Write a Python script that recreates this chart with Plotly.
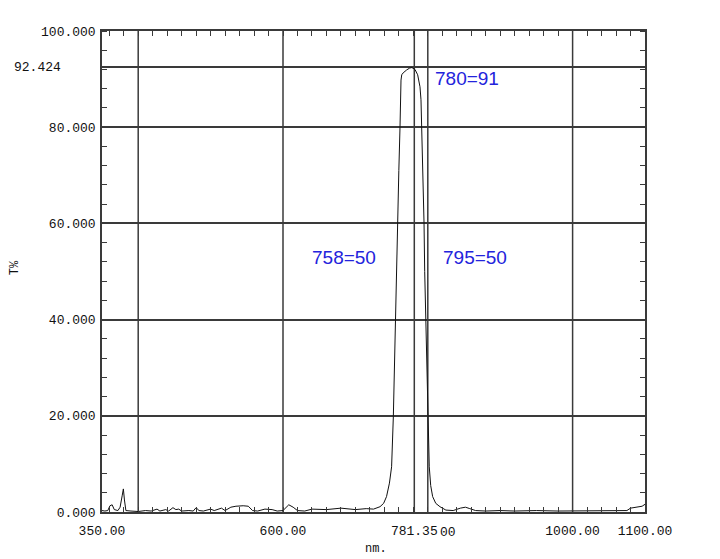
import plotly.graph_objects as go

# transmission spectrum (nm, T%)
wavelength = [350, 354, 358, 361, 364, 367, 372, 375, 378, 379.5, 381, 383, 390, 400,
              410, 418, 426, 430, 438, 442, 448, 452, 456, 460, 470, 476, 480, 484,
              490, 500, 505, 510, 515, 520, 528, 535, 545, 552, 558, 565, 575, 585,
              592, 600, 604, 608, 614, 620, 630, 640, 660, 680, 700, 715, 725, 730,
              734, 739, 743, 747, 750, 752.4, 755, 757, 757.9, 760, 761.6, 762, 763,
              764, 766, 770.8, 775, 778, 782.3, 786, 789.2, 790.6, 791.6, 793.5,
              794.8, 795.7, 797.5, 799, 800.7, 802, 804, 806.7, 811, 816.8, 825, 835,
              845, 852, 858, 866, 880, 900, 920, 950, 980, 1000, 1030, 1060, 1075,
              1080, 1090, 1096, 1100]
transmission = [0.3, 0.2, 0.3, 1.3, 1.5, 0.5, 0.3, 1.0, 3.5, 4.8, 2.5, 0.3, 0.2, 0.1,
                0.3, 0.2, 0.6, 0.2, 0.5, 0.2, 0.9, 0.5, 0.6, 0.2, 0.3, 0.2, 0.9, 0.3,
                0.2, 0.6, 0.3, 0.5, 0.8, 0.3, 1.0, 1.2, 1.3, 1.2, 0.3, 0.2, 0.6, 0.5,
                0.2, 0.3, 1.0, 1.5, 1.0, 0.3, 0.2, 0.6, 0.5, 0.8, 0.5, 0.7, 0.6, 0.8,
                1.1, 1.8, 3.2, 6.0, 9.4, 19.8, 40.0, 50.0, 60.0, 71.0, 80.0, 85.7, 89.8,
                90.9, 91.3, 91.9, 92.3, 92.4, 92.0, 90.9, 88.4, 85.7, 80.1, 70.0,
                60.0, 50.0, 40.0, 30.0, 19.8, 9.4, 5.5, 3.2, 1.8, 1.1, 0.4, 0.3,
                0.8, 1.0, 0.7, 0.3, 0.2, 0.3, 0.2, 0.3, 0.2, 0.2, 0.2, 0.2, 0.3,
                0.8, 1.0, 1.2, 1.6]

peak_wl = 781.35
x_tick_vals = [350, 600, peak_wl, 1000, 1100]
x_tick_text = ["350.00", "600.00", "781.35", "1000.00", "1100.00"]
x_grid = [400, 600, peak_wl, 800, 1000]

y_tick_vals = [0, 20, 40, 60, 80, 92.424, 100]
y_tick_text = ["0.000", "20.000", "40.000", "60.000", "80.000", "", "100.000"]
peak_t = 92.424

notes = [("780=91", 807, 90.1), ("758=50", 637, 53.0), ("795=50", 818, 53.0)]

grid_col = "#3a3a3a"
tick_font = dict(family="Liberation Mono, monospace", size=13, color="#111")

fig = go.Figure()
fig.add_trace(go.Scatter(x=wavelength, y=transmission, mode="lines",
                         line=dict(color="#111", width=1), showlegend=False))

for gx in x_grid:
    fig.add_shape(type="line", x0=gx, x1=gx, y0=0, y1=1, xref="x", yref="paper",
                  line=dict(color=grid_col, width=1.5), layer="below")

# page body has an 8px margin, so the figure is 8px smaller than the window
fig.update_layout(
    width=712, height=551,
    margin=dict(l=94, r=75, t=23, b=47),
    paper_bgcolor="white", plot_bgcolor="white",
    xaxis=dict(
        range=[350, 1100], tickmode="array", tickvals=x_tick_vals, ticktext=x_tick_text,
        showgrid=False, zeroline=False, showline=True, linecolor=grid_col, linewidth=1.5,
        mirror="allticks", ticks="", tickfont=tick_font, ticklabelstandoff=6,
        minor=dict(ticks="inside", dtick=20, tick0=0, ticklen=5, tickcolor=grid_col,
                   showgrid=False),
    ),
    yaxis=dict(
        range=[0, 100], tickmode="array", tickvals=y_tick_vals, ticktext=y_tick_text,
        showgrid=True, gridcolor=grid_col, gridwidth=1.5, zeroline=False,
        showline=True, linecolor=grid_col, linewidth=1.5, mirror="allticks",
        ticks="", tickfont=tick_font, ticklabelstandoff=2,
        minor=dict(ticks="inside", dtick=4, tick0=0, ticklen=5, tickcolor=grid_col,
                   showgrid=False),
    ),
    font=dict(family="Liberation Mono, monospace", size=13, color="#111"),
)

# tail of the hidden "800.00" label peeking out after the peak label
fig.add_annotation(x=0.619, y=0, xref="paper", yref="paper", xanchor="left",
                   yanchor="top", yshift=-11, text="00", showarrow=False,
                   font=tick_font)
fig.add_annotation(x=-0.072, y=peak_t, xref="paper", yref="y", xanchor="right",
                   text=f"{peak_t:.3f}", showarrow=False, font=tick_font)

for txt, nx, ny in notes:
    fig.add_annotation(x=nx, y=ny, text=txt, showarrow=False, xanchor="left",
                       yanchor="middle",
                       font=dict(family="Liberation Sans, Arial", size=19, color="#2323dc"))

fig.add_annotation(x=-0.160, y=0.507, xref="paper", yref="paper", text="T%",
                   textangle=-90, showarrow=False, xanchor="center", yanchor="middle",
                   font=dict(size=12))
fig.add_annotation(x=0.505, y=-0.077, xref="paper", yref="paper", text="nm.",
                   showarrow=False, xanchor="center", yanchor="middle",
                   font=dict(size=12))

fig.write_html("out.html")
